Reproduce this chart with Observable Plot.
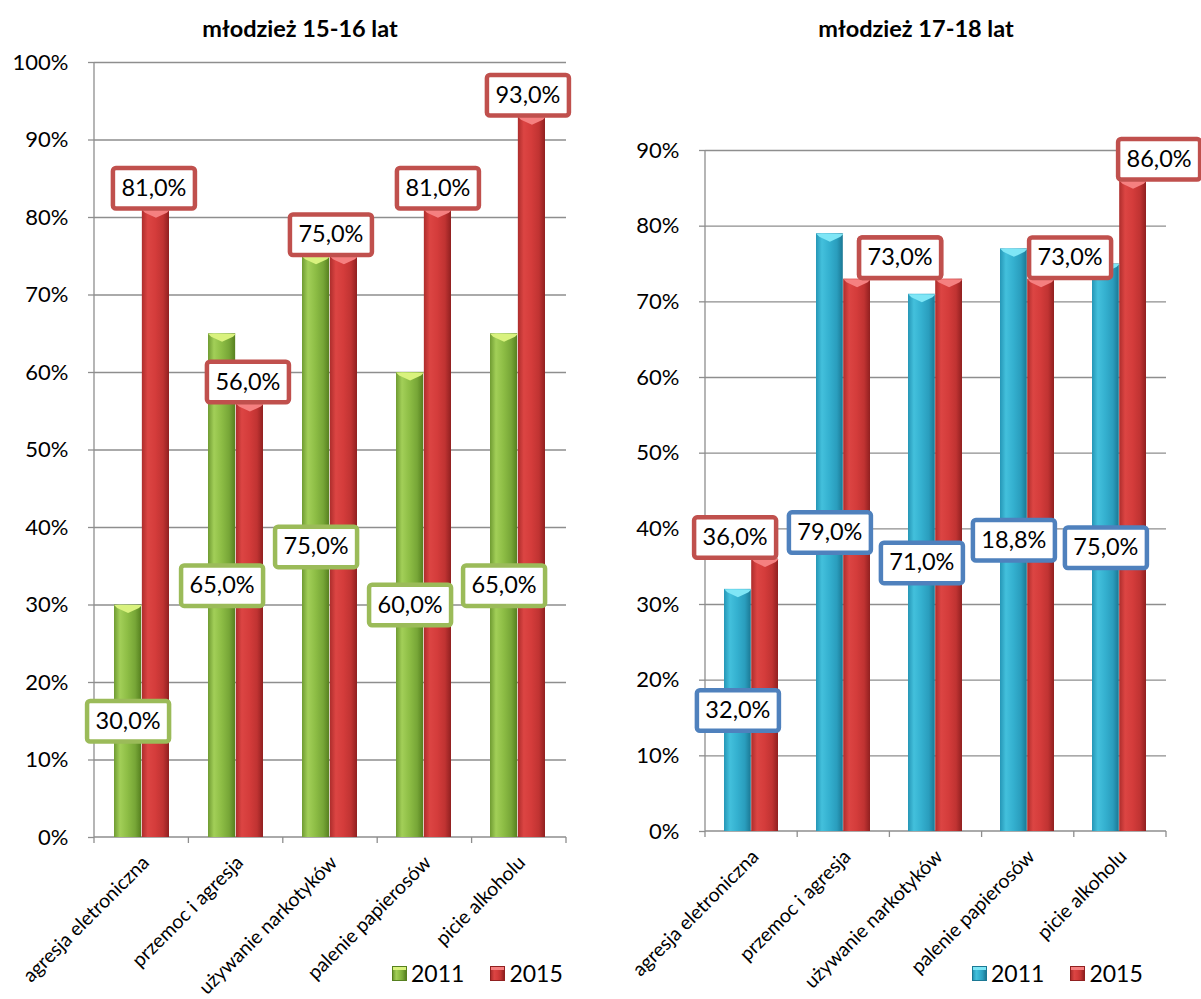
<!DOCTYPE html>
<html lang="pl">
<head>
<meta charset="utf-8">
<script src="https://cdn.jsdelivr.net/npm/d3@7"></script>
<script src="https://cdn.jsdelivr.net/npm/@observablehq/plot@0.6"></script>
<style>
  html, body { margin: 0; padding: 0; background: #fff; }
  #root { position: relative; width: 1201px; height: 999px; overflow: hidden; font-family: Lato, "Open Sans", sans-serif; color: #000; }
  .panel { position: absolute; top: 0; }
  .title { position: absolute; top: 14px; width: 400px; text-align: center; font-weight: bold; font-size: 23.5px; line-height: 28px; }
  .legend { position: absolute; top: 958px; display: flex; align-items: center; font-size: 23px; line-height: 30px; }
  .legend .sw { width: 15px; height: 15px; margin-right: 4px; box-sizing: border-box; }
  .legend .item { display: flex; align-items: center; margin-right: 26px; }
</style>
</head>
<body>
<div id="root"></div>
<script>
// Categories and values (percent of respondents)
const categories = ["agresja eletroniczna", "przemoc i agresja", "używanie narkotyków", "palenie papierosów", "picie alkoholu"];
const years = ["2011", "2015"];
const titles = ["młodzież 15-16 lat", "młodzież 17-18 lat"];

const youth1516_2011 = [30, 65, 75, 60, 65];
const youth1516_2015 = [81, 56, 75, 81, 93];
const youth1718_2011 = [32, 79, 71, 77, 75];
const youth1718_2015 = [36, 73, 73, 73, 86];

const ticks1516 = [0, 10, 20, 30, 40, 50, 60, 70, 80, 90, 100];
const ticks1718 = [0, 10, 20, 30, 40, 50, 60, 70, 80, 90];

// label printed for one entry of the 17-18 / 2011 series
const printedLabels1718_2011 = [null, null, null, "18,8%", null];

const GRID = "#8e8e8e";
const pct = v => v.toFixed(1).replace(".", ",") + "%";

const palette = {
  green: {stops: ["#6f9b32", "#a2cf58", "#8dbd45", "#77a637", "#56801f"], top: "#d9f27e", border: "#9bbb59"},
  red:   {stops: ["#ad2d2c", "#dc4543", "#d43c3b", "#c03332", "#902020"], top: "#f58080", border: "#c0504d"},
  blue:  {stops: ["#2596b6", "#43c0dc", "#34b0cf", "#2a9dbd", "#1b7894"], top: "#7fe6f6", border: "#4f81bd"}
};

function gradientDefs(id, names) {
  return () => {
    const defs = d3.create("svg:defs");
    names.forEach((name, k) => {
      const g = defs.append("linearGradient").attr("id", `${id}-${k}`).attr("x1", 0).attr("x2", 1).attr("y1", 0).attr("y2", 0);
      const offs = [0, 0.22, 0.5, 0.78, 1];
      palette[name].stops.forEach((c, j) => g.append("stop").attr("offset", offs[j]).attr("stop-color", c));
    });
    return defs.node();
  };
}

// axis lines and the category separators below the baseline
function axisFrame(index, scales, values, dim) {
  const g = d3.create("svg:g").attr("stroke", GRID).attr("stroke-width", 1.3);
  const x0 = dim.marginLeft, x1 = dim.width - dim.marginRight;
  const y0 = dim.marginTop, y1 = dim.height - dim.marginBottom;
  g.append("line").attr("x1", x0).attr("x2", x0).attr("y1", y0).attr("y2", y1);
  g.append("line").attr("x1", x0).attr("x2", x1).attr("y1", y1).attr("y2", y1);
  const step = (x1 - x0) / categories.length;
  d3.range(categories.length + 1).forEach(k => {
    g.append("line").attr("x1", x0 + k * step).attr("x2", x0 + k * step).attr("y1", y1).attr("y2", y1 + 6);
  });
  return g.node();
}

const boxSymbol = (w, h, r) => ({
  draw(ctx) {
    const x0 = -w / 2, y0 = -h / 2, x1 = w / 2, y1 = h / 2;
    ctx.moveTo(x0 + r, y0);
    ctx.lineTo(x1 - r, y0); ctx.arcTo(x1, y0, x1, y0 + r, r);
    ctx.lineTo(x1, y1 - r); ctx.arcTo(x1, y1, x1 - r, y1, r);
    ctx.lineTo(x0 + r, y1); ctx.arcTo(x0, y1, x0, y1 - r, r);
    ctx.lineTo(x0, y0 + r); ctx.arcTo(x0, y0, x0 + r, y0, r);
    ctx.closePath();
  }
});

const bevelSymbol = w => ({
  draw(ctx) {
    ctx.moveTo(-w / 2, 0);
    ctx.lineTo(w / 2, 0);
    ctx.lineTo(w / 2 - 3, 3);
    ctx.lineTo(0, 8);
    ctx.lineTo(-w / 2 + 3, 3);
    ctx.closePath();
  }
});

function panel(cfg) {
  const {id, width, mL, mR, mT, mB, ticks, v2011, v2015, colors, nudge2011, nudge2015, printed2011} = cfg;
  const padInner = 0.41;
  const step = (width - mL - mR) / categories.length;
  const half = step * (1 - padInner) / 2;
  const rows = categories.map((cat, i) => ({cat, i, a: v2011[i], b: v2015[i]}));
  const box = boxSymbol(82, 40.5, 3);
  const labelDy = -21.5;

  const labelMarks = rows.flatMap(r => [
    Plot.dot([r], {x: "cat", y: d => d.a / 2, dx: -half / 2 + nudge2011[r.i], symbol: box, fill: "white", stroke: palette[colors[0]].border, strokeWidth: 4.5}),
    Plot.text([r], {x: "cat", y: d => d.a / 2, dx: -half / 2 + nudge2011[r.i], text: d => printed2011[d.i] ?? pct(d.a), fontSize: 23.5, fill: "#000"}),
    Plot.dot([r], {x: "cat", y: "b", dx: half / 2 + nudge2015[r.i], dy: labelDy, symbol: box, fill: "white", stroke: palette[colors[1]].border, strokeWidth: 4.5}),
    Plot.text([r], {x: "cat", y: "b", dx: half / 2 + nudge2015[r.i], dy: labelDy, text: d => pct(d.b), fontSize: 23.5, fill: "#000"})
  ]);

  return Plot.plot({
    width, height: 999,
    marginLeft: mL, marginRight: mR, marginTop: mT, marginBottom: mB,
    style: {fontFamily: "Lato, 'Open Sans', sans-serif", color: "#000", background: "transparent", overflow: "visible"},
    x: {domain: categories, paddingInner: padInner, paddingOuter: padInner / 2, axis: null},
    y: {domain: [0, d3.max(ticks)], label: null},
    marks: [
      gradientDefs(id, colors),
      Plot.gridY(ticks.filter(t => t > 0), {stroke: GRID, strokeOpacity: 1, strokeWidth: 1.3}),
      Plot.axisY(ticks, {tickSize: 6, tickPadding: 20, fontSize: 22, stroke: GRID, strokeWidth: 1.3, tickFormat: d => d + "%", label: null}),
      // rotated category names under the baseline
      Plot.text(categories, {x: d => d, frameAnchor: "bottom", text: d => d, rotate: -45, textAnchor: "end", lineAnchor: "middle", dx: 4, dy: 22, fontSize: 19.5, fill: "#000"}),
      axisFrame,
      Plot.barY(rows, {x: "cat", y: "a", fill: `url(#${id}-0)`, insetRight: half}),
      Plot.barY(rows, {x: "cat", y: "b", fill: `url(#${id}-1)`, insetLeft: half}),
      Plot.dot(rows, {x: "cat", y: "a", dx: -half / 2, symbol: bevelSymbol(half), fill: palette[colors[0]].top, stroke: "none"}),
      Plot.dot(rows, {x: "cat", y: "b", dx: half / 2, symbol: bevelSymbol(half), fill: palette[colors[1]].top, stroke: "none"}),
      ...labelMarks
    ]
  });
}

const root = document.getElementById("root");

const panels = [
  {id: "p1516", left: 0, titleCenter: 300, legendLeft: 392,
   width: 600, mL: 94, mR: 34, mT: 62, mB: 162, ticks: ticks1516,
   v2011: youth1516_2011, v2015: youth1516_2015, colors: ["green", "red"],
   nudge2011: [0, 0, 0, 0, 0], nudge2015: [-2, -2, -13, 0, -4], printed2011: [null, null, null, null, null]},
  {id: "p1718", left: 600, titleCenter: 916, legendLeft: 972,
   width: 601, mL: 105, mR: 35, mT: 150, mB: 168, ticks: ticks1718,
   v2011: youth1718_2011, v2015: youth1718_2015, colors: ["blue", "red"],
   nudge2011: [0, 0, 0, 0, 0], nudge2015: [-30, 43, -49, 29, 26], printed2011: printedLabels1718_2011}
];

panels.forEach((cfg, k) => {
  const wrap = document.createElement("div");
  wrap.className = "panel";
  wrap.style.left = cfg.left + "px";
  wrap.appendChild(panel(cfg));
  root.appendChild(wrap);

  const t = document.createElement("div");
  t.className = "title";
  t.style.left = (cfg.titleCenter - 200) + "px";
  t.textContent = titles[k];
  root.appendChild(t);

  const lg = document.createElement("div");
  lg.className = "legend";
  lg.style.left = cfg.legendLeft + "px";
  years.forEach((yr, j) => {
    const p = palette[cfg.colors[j]];
    const item = document.createElement("div");
    item.className = "item";
    const sw = document.createElement("div");
    sw.className = "sw";
    sw.style.background = `linear-gradient(to bottom, ${p.top} 0, ${p.top} 3px, transparent 3px), linear-gradient(to right, ${p.stops.join(",")})`;
    sw.style.border = `1px solid ${p.stops[4]}`;
    const tx = document.createElement("span");
    tx.textContent = yr;
    item.appendChild(sw);
    item.appendChild(tx);
    lg.appendChild(item);
  });
  root.appendChild(lg);
});
</script>
</body>
</html>
